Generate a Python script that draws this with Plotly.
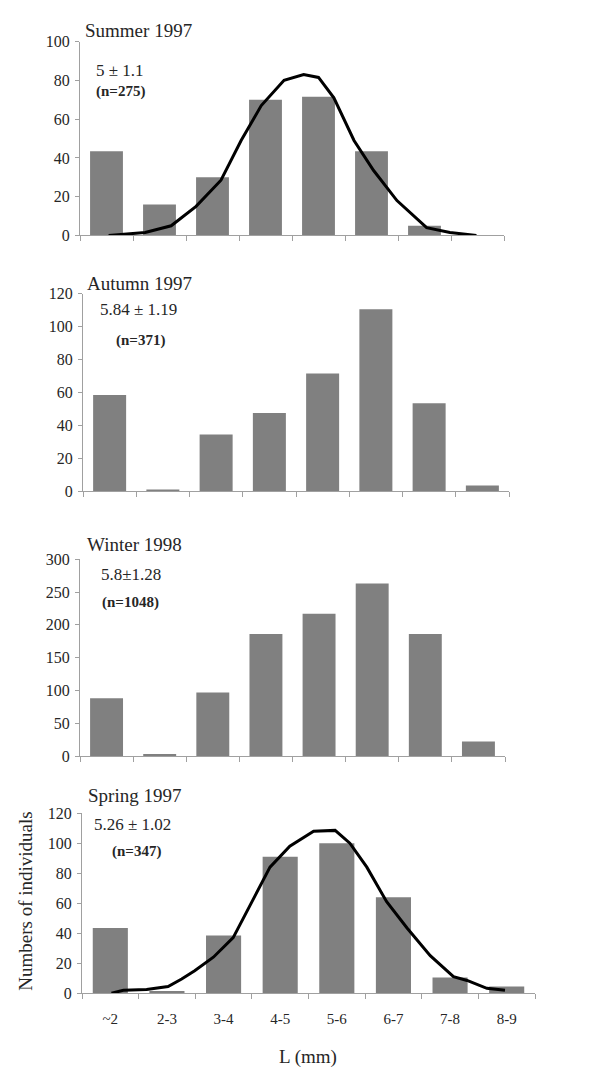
import plotly.graph_objects as go

categories = ["~2", "2-3", "3-4", "4-5", "5-6", "6-7", "7-8", "8-9"]

summer_counts = [43.5, 16, 30, 70, 71.5, 43.5, 5, 0]
autumn_counts = [58.5, 1, 34.5, 47.5, 71.5, 110.5, 53.5, 3.5]
winter_counts = [88, 3, 97, 186, 217, 263, 186, 22]
spring_counts = [43.5, 1.5, 38.5, 91, 100, 64, 10.5, 4.5]

# fitted curves, x in category-index units (0 = "~2", 7 = "8-9")
summer_curve_x = [0.04, 0.73, 1.22, 1.69, 2.16, 2.54, 2.92, 3.35, 3.72, 4.0, 4.29, 4.67, 5.04, 5.48, 6.04, 6.48, 6.98]
summer_curve_y = [0, 1.5, 5, 15, 28.5, 49, 67, 80, 83, 81.5, 71, 49, 33.5, 18, 4, 1.5, 0]
spring_curve_x = [0.02, 0.23, 0.64, 1.02, 1.26, 1.49, 1.82, 2.17, 2.53, 2.82, 3.17, 3.59, 3.97, 4.23, 4.53, 4.88, 5.24, 5.65, 6.06, 6.3, 6.65, 6.97]
spring_curve_y = [0, 2, 2.5, 4.5, 9.5, 15, 24, 37, 63, 84, 98, 108, 108.5, 100, 84, 61, 43.5, 25, 11, 8.5, 3.3, 2]

titles = ["Summer 1997", "Autumn 1997", "Winter 1998", "Spring 1997"]
stats = ["5 ± 1.1", "5.84 ± 1.19", "5.8±1.28", "5.26 ± 1.02"]
ns = ["(n=275)", "(n=371)", "(n=1048)", "(n=347)"]
y_ranges = [[0, 100], [0, 120], [0, 300], [0, 120]]
y_dticks = [20, 20, 50, 20]

W, H = 594, 1070
FONT = "Liberation Serif"
BAR_COLOR = "#808080"
AX_COLOR = "#a0a0a0"
TXT = "#262626"

# panel pixel boxes: (x_left, x_right, y_top, y_bottom)
boxes = [(72, 496, 26, 223), (75, 501, 282, 483), (72, 497, 552, 752), (74, 527, 810, 993)]
title_pos = [(75, 15), (77, 272), (77, 537), (78, 792)]
stat_pos = [(112, 55), (130, 298), (123, 568), (124, 822)]
n_pos = [(112, 77), (132, 330), (122, 596), (128, 849)]

fig = go.Figure()
counts_all = [summer_counts, autumn_counts, winter_counts, spring_counts]
xs = list(range(len(categories)))
for k in range(4):
    sfx = "" if k == 0 else str(k + 1)
    fig.add_trace(go.Bar(x=xs, y=counts_all[k], width=0.62, marker=dict(color=BAR_COLOR, line=dict(width=0)),
                         xaxis="x" + sfx, yaxis="y" + sfx, showlegend=False))
    if k == 0:
        fig.add_trace(go.Scatter(x=summer_curve_x, y=summer_curve_y, mode="lines", line=dict(color="black", width=3),
                                 xaxis="x", yaxis="y", showlegend=False))
    if k == 3:
        fig.add_trace(go.Scatter(x=spring_curve_x, y=spring_curve_y, mode="lines", line=dict(color="black", width=3),
                                 xaxis="x4", yaxis="y4", showlegend=False))

layout = dict(width=W, height=H, margin=dict(l=0, r=0, t=0, b=0), paper_bgcolor="white", plot_bgcolor="white",
              bargap=0.38, showlegend=False, font=dict(family=FONT, color=TXT))
annotations = []
boundaries = [i - 0.5 for i in range(len(categories) + 1)]
for k in range(4):
    x0, x1, yt, yb = boxes[k]
    sfx = "" if k == 0 else str(k + 1)
    xa = dict(domain=[x0 / W, x1 / W], range=[-0.5, 7.5], anchor="y" + sfx, showgrid=False, zeroline=False,
              showline=True, linecolor=AX_COLOR, linewidth=1, fixedrange=True,
              tickfont=dict(family=FONT, size=15, color=TXT))
    if k == 3:
        xa.update(tickmode="array", tickvals=xs, ticktext=categories, ticks="", ticklabelstandoff=12,
                  minor=dict(tickmode="array", tickvals=boundaries, ticks="outside", ticklen=5, tickcolor=AX_COLOR))
    else:
        xa.update(tickmode="array", tickvals=boundaries, ticktext=[""] * len(boundaries), ticks="outside",
                  ticklen=5, tickcolor=AX_COLOR, showticklabels=False)
    ya = dict(domain=[1 - yb / H, 1 - yt / H], range=y_ranges[k], dtick=y_dticks[k], anchor="x" + sfx,
              showgrid=False, zeroline=False, showline=True, linecolor=AX_COLOR, linewidth=1,
              ticks="outside", ticklen=4, tickcolor=AX_COLOR, fixedrange=True, ticklabelstandoff=2,
              tickfont=dict(family=FONT, size=16, color=TXT))
    layout["xaxis" + sfx] = xa
    layout["yaxis" + sfx] = ya
    tx, ty = title_pos[k]
    annotations.append(dict(x=tx / W, y=1 - ty / H, xref="paper", yref="paper", text=titles[k], showarrow=False,
                            xanchor="left", yanchor="middle", font=dict(family=FONT, size=19, color=TXT)))
    sx, sy = stat_pos[k]
    annotations.append(dict(x=sx / W, y=1 - sy / H, xref="paper", yref="paper", text=stats[k], showarrow=False,
                            xanchor="center", yanchor="middle", font=dict(family=FONT, size=17, color=TXT)))
    nx, ny = n_pos[k]
    annotations.append(dict(x=nx / W, y=1 - ny / H, xref="paper", yref="paper", text="<b>" + ns[k] + "</b>",
                            showarrow=False, xanchor="center", yanchor="middle",
                            font=dict(family=FONT, size=15, color=TXT)))

annotations.append(dict(x=300 / W, y=1 - 1058 / H, xref="paper", yref="paper", text="L (mm)", showarrow=False,
                        xanchor="center", yanchor="middle", font=dict(family=FONT, size=19, color=TXT)))
annotations.append(dict(x=18 / W, y=1 - 900 / H, xref="paper", yref="paper", text="Numbers of individuals",
                        textangle=-90, showarrow=False, xanchor="center", yanchor="middle",
                        font=dict(family=FONT, size=19, color=TXT)))
layout["annotations"] = annotations
fig.update_layout(**layout)
fig.write_html("out.html")
